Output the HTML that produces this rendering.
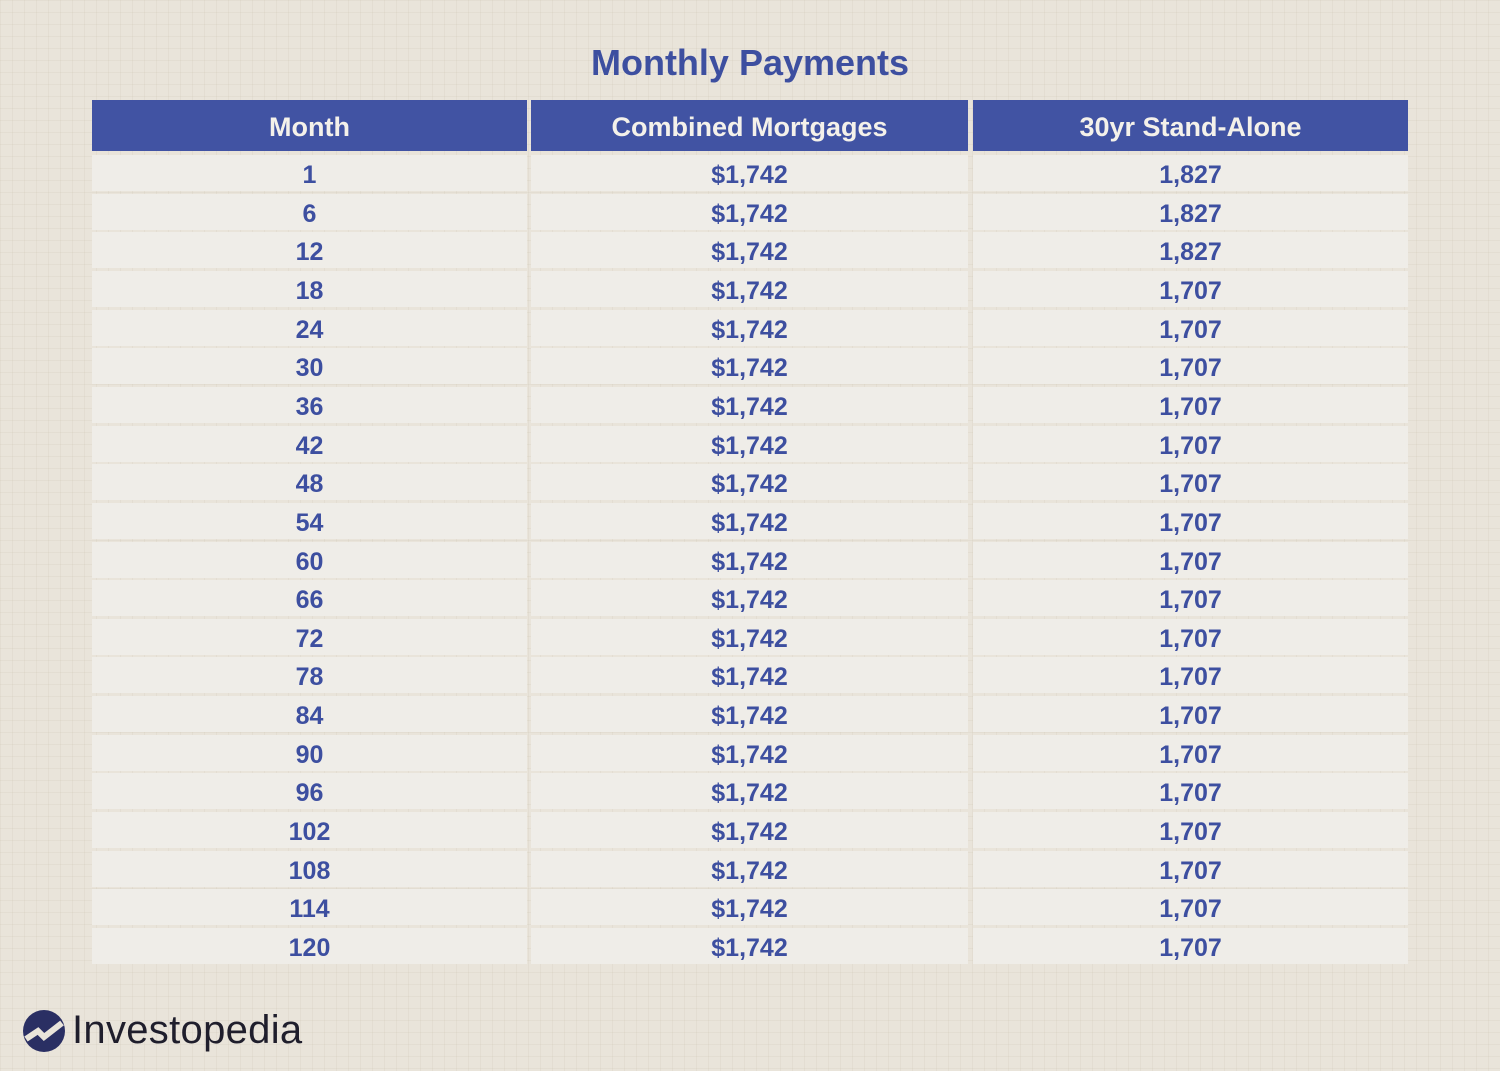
<!DOCTYPE html>
<html><head><meta charset="utf-8"><style>
html,body{margin:0;padding:0}
body{width:1500px;height:1071px;position:relative;overflow:hidden;background:#e9e4da;font-family:"Liberation Sans",sans-serif;
background-image:linear-gradient(rgba(200,190,170,0.18) 1px,transparent 1px),linear-gradient(90deg,rgba(200,190,170,0.18) 1px,transparent 1px);background-size:12px 12px}
#title{position:absolute;left:0;width:1500px;top:42px;text-align:center;font-size:36px;font-weight:bold;color:#3d4fa0}
.cell{position:absolute;display:flex;align-items:center;justify-content:center;box-sizing:border-box;padding-top:4px}
.hd{background:#4153a3;color:#f4f1ea;font-size:27px;font-weight:bold}
.bd{background:#efede8;color:#3d4fa0;font-size:25px;font-weight:bold}
#logo{position:absolute;left:22px;top:1008px;display:flex;align-items:center}
#logo span{font-size:40px;color:#1f1e2c;margin-left:6px;letter-spacing:0.3px}
</style></head><body>
<div id="title">Monthly Payments</div>
<div id="table"></div>
<div id="logo">
<svg width="44" height="44" viewBox="0 0 44 44"><circle cx="22" cy="22" r="21" fill="#2a2f63"/><path d="M4 30 L16 22 L22 28 L40 14" stroke="#e9e4da" stroke-width="6" fill="none"/></svg>
<span>Investopedia</span></div>
<script>
const headers=["Month","Combined Mortgages","30yr Stand-Alone"];
const months=[1,6,12,18,24,30,36,42,48,54,60,66,72,78,84,90,96,102,108,114,120];
const combined=[1742,1742,1742,1742,1742,1742,1742,1742,1742,1742,1742,1742,1742,1742,1742,1742,1742,1742,1742,1742,1742];
const standalone=[1827,1827,1827,1707,1707,1707,1707,1707,1707,1707,1707,1707,1707,1707,1707,1707,1707,1707,1707,1707,1707];
const cols=[[92,435],[531,437],[973,435]];
const t=document.getElementById('table');
function mk(x,y,w,h,cls,txt,name){const d=document.createElement('div');d.className='cell '+cls;
d.style.left=x+'px';d.style.top=y+'px';d.style.width=w+'px';d.style.height=h+'px';d.textContent=txt;


t.appendChild(d);}
headers.forEach((h,i)=>mk(cols[i][0],100,cols[i][1],51,'hd',h,'header-'+i));
const fmt=v=>v.toLocaleString('en-US');
const rowH=38.65,top0=155;
months.forEach((m,r)=>{const y=Math.round(top0+r*rowH);
mk(cols[0][0],y,cols[0][1],36,'bd',String(m),'month-cell');
mk(cols[1][0],y,cols[1][1],36,'bd','$'+fmt(combined[r]),'combined-cell');
mk(cols[2][0],y,cols[2][1],36,'bd',fmt(standalone[r]),'standalone-cell');});
</script>
</body></html>
